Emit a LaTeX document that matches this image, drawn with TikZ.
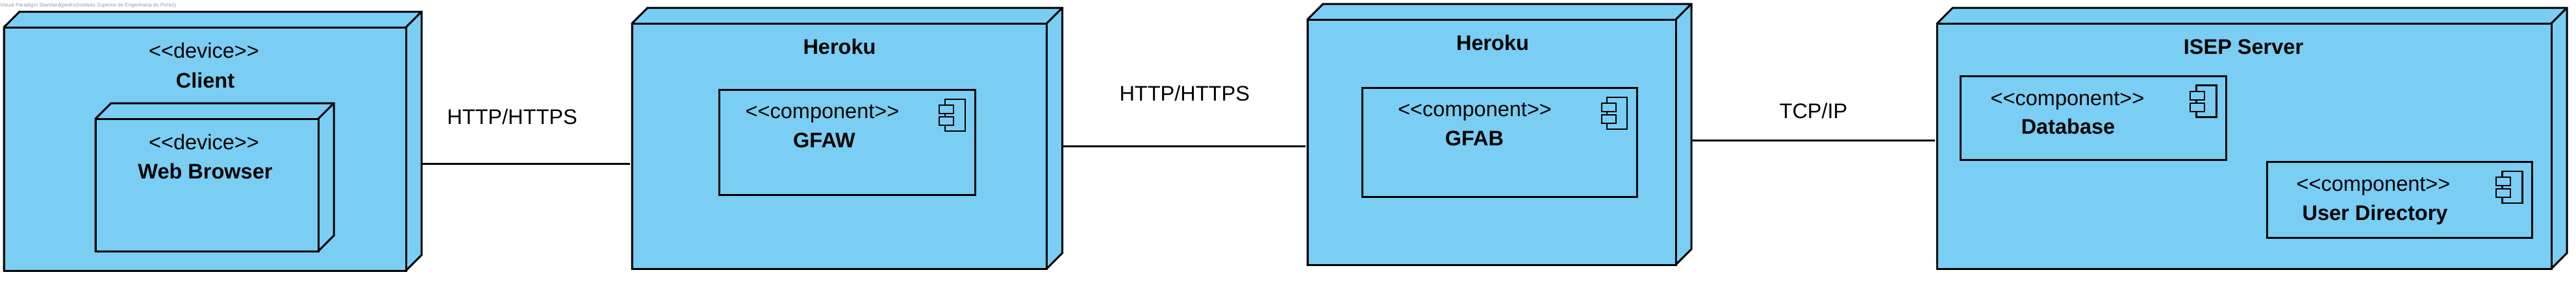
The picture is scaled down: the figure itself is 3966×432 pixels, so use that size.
\documentclass[tikz,border=0pt]{standalone}
\usepackage{fontspec}
\setmainfont{Liberation Sans}
\definecolor{vpblue}{HTML}{7ACEF4}
\definecolor{wmgray}{HTML}{9A9A9A}
\tikzset{
  cubeface/.style={draw=black,fill=vpblue,line width=3pt,line join=miter},
  linkline/.style={draw=black,line width=3pt,line cap=butt},
  boxregion/.style={rectangle,inner sep=0pt,outer sep=0pt,draw=none},
  comprect/.style={rectangle,inner sep=0pt,outer sep=0pt,draw=black,fill=vpblue,line width=3pt},
  iconline/.style={draw=black,fill=vpblue,line width=2.6pt},
  stereo/.style={anchor=base,inner sep=0pt,font=\fontsize{32.5}{39}\selectfont},
  titletext/.style={anchor=base,inner sep=0pt,font=\fontsize{32.5}{39}\selectfont\bfseries},
  linktext/.style={anchor=base,inner sep=0pt,font=\fontsize{32.5}{39}\selectfont},
  watermark/.style={anchor=base west,inner sep=0pt,text=wmgray,font=\fontsize{8}{10}\selectfont}
}
% name, left, top (front), right, bottom (front), depth x, depth y
\newcommand{\cubenode}[7]{%
  \path[cubeface] (#2,-#3) -- (#2+#6,-#3+#7) -- (#4+#6,-#3+#7) -- (#4+#6,-#5+#7) -- (#4,-#5) -- (#2,-#5) -- cycle;
  \draw[cubeface] (#2,-#3) rectangle (#4,-#5);
  \draw[cubeface,fill=none] (#4,-#3) -- (#4+#6,-#3+#7);
  \node[boxregion,minimum width=#4+#6-#2,minimum height=#5-#3+#7,anchor=north west] (#1) at (#2,-#3+#7) {};
}
% name, left, top, right, bottom
\newcommand{\compnode}[5]{%
  \node[comprect,minimum width=#4-#2,minimum height=#5-#3,anchor=north west] (#1) at (#2,-#3) {};
}
% main left, top; stub left, top; stub left, top
\newcommand{\compicon}[6]{%
  \draw[iconline] (#1,-#2) rectangle (#1+31,-#2-49);
  \draw[iconline] (#3,-#4) rectangle (#3+22,-#4-13);
  \draw[iconline] (#5,-#6) rectangle (#5+22,-#6-13);
}
\begin{document}
\begin{tikzpicture}[x=1pt,y=1pt]
\useasboundingbox (0,0) rectangle (3966,-432);
\fill[white] (0,0) rectangle (3966,-432);

\node[watermark] (wm) at (0,-10.5) {Visual Paradigm Standard(pedro(Instituto Superior de Engenharia do Porto))};

% Client
\cubenode{client}{6}{42}{625}{417}{24}{24}
\node[stereo] (clientst) at (314,-89) {<{}<device>{}>};
\node[titletext] (clientname) at (316,-135) {Client};
\cubenode{browser}{147}{183}{490}{387}{24}{24}
\node[stereo] (browserst) at (314,-230) {<{}<device>{}>};
\node[titletext] (browsername) at (316,-275.7) {Web Browser};

% Heroku 1
\cubenode{herokua}{973}{36}{1611.5}{414}{24}{24}
\node[titletext] (herokuaname) at (1292.5,-83.3) {Heroku};
\compnode{gfaw}{1107.5}{138}{1501}{300}
\compicon{1455}{153}{1446}{162}{1446}{180}
\node[stereo] (gfawst) at (1266,-182) {<{}<component>{}>};
\node[titletext] (gfawname) at (1269,-227.7) {GFAW};

% Heroku 2
\cubenode{herokub}{2013}{30}{2580}{408}{24}{24}
\node[titletext] (herokubname) at (2298,-77.3) {Heroku};
\compnode{gfab}{2097.5}{135}{2520.6}{303.7}
\compicon{2474}{150}{2466}{159}{2466}{177}
\node[stereo] (gfabst) at (2270.6,-179.3) {<{}<component>{}>};
\node[titletext] (gfabname) at (2270,-224) {GFAB};

% ISEP server
\cubenode{isep}{2982.5}{36}{3928}{414}{24}{24}
\node[titletext] (isepname) at (3454,-83.3) {ISEP Server};
\compnode{database}{3018}{117}{3427}{246.7}
\compicon{3381.6}{131.7}{3372}{141}{3372}{159}
\node[stereo] (databasest) at (3183,-162.7) {<{}<component>{}>};
\node[titletext] (databasename) at (3184,-206.7) {Database};
\compnode{userdir}{3490}{249}{3898}{366}
\compicon{3852.7}{264}{3843}{273}{3843}{291}
\node[stereo] (userdirst) at (3654,-294) {<{}<component>{}>};
\node[titletext] (userdirname) at (3656.5,-339.3) {User Directory};

% Connectors
\draw[linkline,shorten >=3.5pt] (client.east |- 0,-252.5) -- (herokua.west |- 0,-252.5);
\draw[linkline,shorten >=3.5pt] (herokua.east |- 0,-225.5) -- (herokub.west |- 0,-225.5);
\draw[linkline,shorten >=3.5pt] (herokub.east |- 0,-216.5) -- (isep.west |- 0,-216.5);

\node[linktext] (link1) at (788.5,-191.7) {HTTP/HTTPS};
\node[linktext] (link2) at (1823.7,-155.3) {HTTP/HTTPS};
\node[linktext] (link3) at (2792,-182.7) {TCP/IP};
\end{tikzpicture}
\end{document}
